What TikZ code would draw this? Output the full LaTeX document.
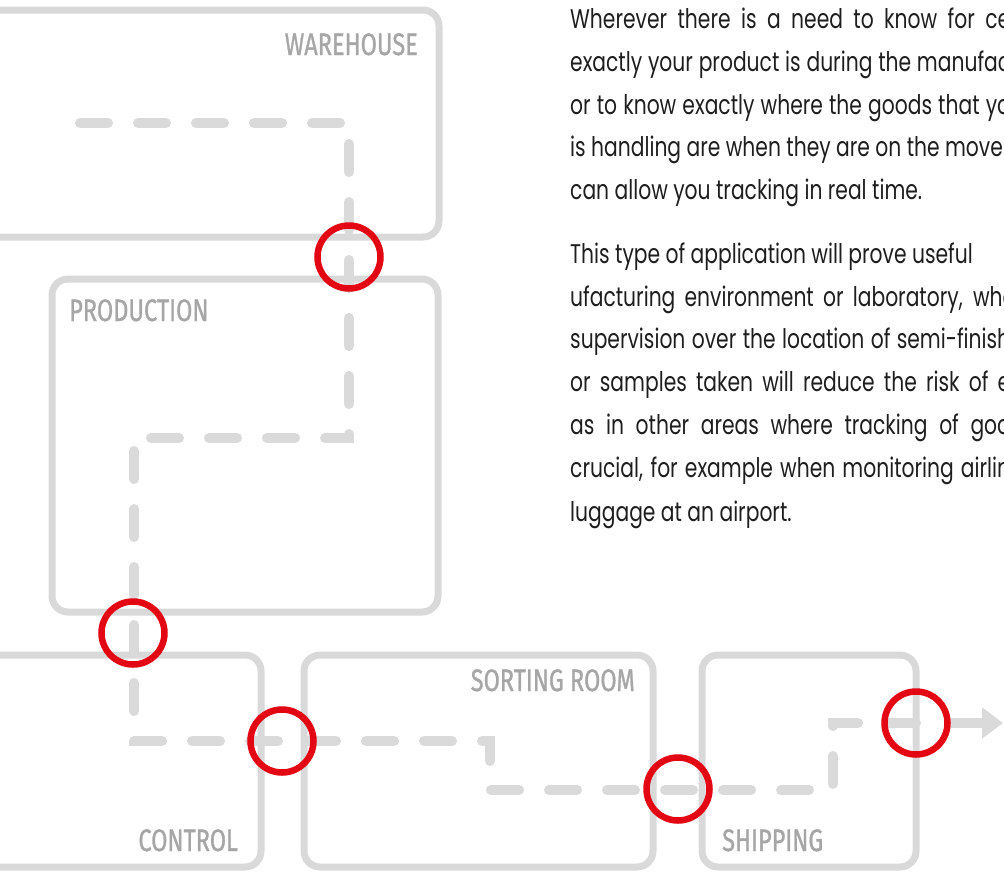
\documentclass[tikz,border=0pt]{standalone}
\usepackage{fontspec}
\usetikzlibrary{arrows.meta}
\newfontfamily\bodyfont{Poppins}
\newfontfamily\labfont[FakeBold=1.2]{Fira Sans}
\definecolor{boxgray}{HTML}{D9D9D9}
\definecolor{flowgray}{HTML}{DADADA}
\definecolor{labelgray}{HTML}{A6A6A6}
\definecolor{tagred}{HTML}{E30613}
\definecolor{ink}{HTML}{1E1E1E}
\newlength\refw
\newlength\labw
\newcommand\bodysize{\fontsize{27}{32}\selectfont}
\newcommand\labsize{\fontsize{31}{31}\selectfont}
\newcommand\jline[2]{\pgfmathsetmacro\jw{#1/\hs}\scalebox{\hs}[1]{\makebox[\jw pt][s]{#2}}}
\newcommand\nline[1]{\scalebox{\hs}[1]{#1}}
\newcommand\lab[1]{\scalebox{\ls}[1]{#1}}
\tikzset{
  room/.style={draw=boxgray, line width=7pt, rounded corners=16pt, inner sep=0},
  roomlabel/.style={text=labelgray, font=\labfont\labsize, inner sep=0},
  flow/.style={draw=flowgray, line width=10pt, line cap=round, dash pattern=on 28pt off 30pt},
  reader/.style={circle, draw=tagred, line width=6.5pt, minimum size=63pt, inner sep=0},
  body/.style={anchor=base west, inner sep=0, text=ink, font=\bodyfont\bodysize},
}
\begin{document}
\settowidth\refw{\bodyfont\bodysize can allow you tracking in real time.}%
\pgfmathsetmacro\hs{352/\refw}%
\settowidth\labw{\labfont\labsize WAREHOUSE}%
\pgfmathsetmacro\ls{133/\labw}%
\begin{tikzpicture}[x=1pt, y=-1pt]
\useasboundingbox (0,0) rectangle (1004,871);
\clip (0,0) rectangle (1004,871);

% rooms
\node[room, minimum width=469pt, minimum height=227pt] (warehouse) at (204.5,123.5) {};
\node[room, minimum width=386pt, minimum height=333pt] (production) at (245,445.5) {};
\node[room, minimum width=291pt, minimum height=212pt] (control) at (115.5,761) {};
\node[room, minimum width=349pt, minimum height=212pt] (sorting) at (478.5,761) {};
\node[room, minimum width=214pt, minimum height=212pt] (shipping) at (809,761) {};

% room labels
\node[roomlabel, anchor=base east] (lwarehouse) at (418,55) {\lab{WAREHOUSE}};
\node[roomlabel, anchor=base west] (lproduction) at (69,321) {\lab{PRODUCTION}};
\node[roomlabel, anchor=base east] (lcontrol) at (238,851) {\lab{CONTROL}};
\node[roomlabel, anchor=base east] (lsorting) at (635,691) {\lab{SORTING ROOM}};
\node[roomlabel, anchor=base west] (lshipping) at (722,851) {\lab{SHIPPING}};

% flow route
\coordinate (f0) at (80,123);
\coordinate (f1) at (349,123);
\coordinate (f2) at (349,438);
\coordinate (f3) at (134,438);
\coordinate (f4) at (134,741);
\coordinate (f5) at (490,741);
\coordinate (f6) at (490,790);
\coordinate (f7) at (833,790);
\coordinate (f8) at (833,723);
\coordinate (f9) at (926,723);
\draw[flow] (f0) -- (f1) -- (f2) -- (f3) -- (f4) -- (f5) -- (f6) -- (f7) -- (f8) -- (f9);

% readers
\node[reader] (r1) at (349,257) {};
\node[reader] (r2) at (133,633) {};
\node[reader] (r3) at (282,741) {};
\node[reader] (r4) at (678,789) {};
\node[reader] (r5) at (916,723) {};

\coordinate (aend) at (1003,723);
\draw[flowgray, line width=10pt, -{Triangle[length=21pt, width=30pt]}] (r5.east) -- (aend);

% text
\node[body] (t1) at (570,28.7) {\jline{440}{Wherever there is a need to know for ce}};
\node[body] (t2) at (570,71.7) {\jline{440}{exactly your product is during the manufac}};
\node[body] (t3) at (570,114) {\jline{440}{or to know exactly where the goods that yo}};
\node[body] (t4) at (570,156.6) {\nline{is handling are when they are on the move}};
\node[body] (t5) at (570,199) {\nline{can allow you tracking in real time.}};
\node[body] (t6) at (570,263.4) {\nline{This type of application will prove useful}};
\node[body] (t7) at (570,306.5) {\jline{445}{ufacturing environment or laboratory, whe}};
\node[body] (t8) at (570,348.4) {\jline{440}{supervision over the location of semi-finish}};
\node[body] (t9) at (570,391.8) {\jline{440}{or samples taken will reduce the risk of e}};
\node[body] (t10) at (570,434.8) {\jline{440}{as in other areas where tracking of goo}};
\node[body] (t11) at (570,477.8) {\jline{440}{crucial, for example when monitoring airlin}};
\node[body] (t12) at (570,521.5) {\nline{luggage at an airport.}};
\end{tikzpicture}
\end{document}
